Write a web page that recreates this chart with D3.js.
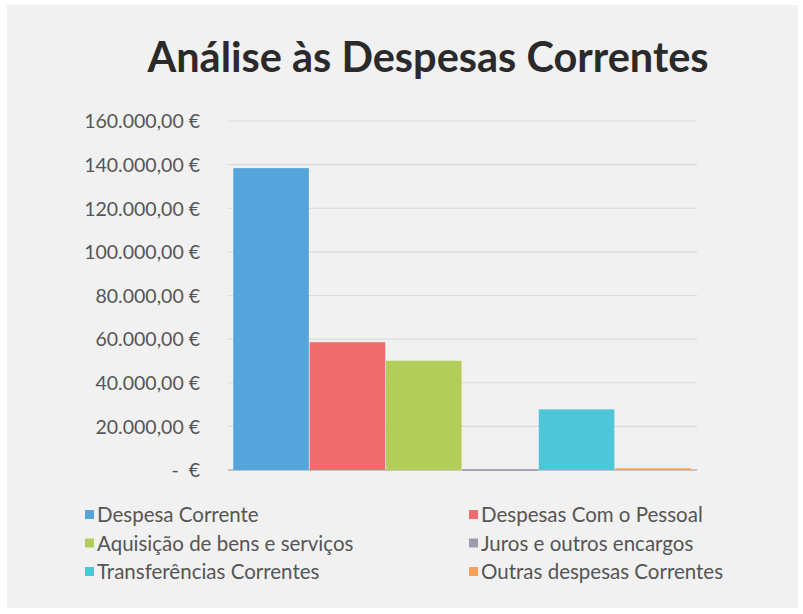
<!DOCTYPE html>
<html><head><meta charset="utf-8">
<script src="https://cdn.jsdelivr.net/npm/d3@7"></script>
<style>html,body{margin:0;padding:0;background:#fff;}svg{display:block;}</style>
</head><body>
<svg id="c" width="803" height="614"></svg>
<script>
const title = "Análise às Despesas Correntes";
const series = ["Despesa Corrente","Despesas Com o Pessoal","Aquisição de bens e serviços","Juros e outros encargos","Transferências Correntes","Outras despesas Correntes"];
const values = [138400, 58600, 50100, 300, 27800, 800];
const colors = ["#55a5dc","#ef6c6c","#b3cd5a","#9c9cac","#4ec6d8","#f4a25c"];
const yTicks = [0,20000,40000,60000,80000,100000,120000,140000,160000];
const tickLabels = ["-  €","20.000,00 €","40.000,00 €","60.000,00 €","80.000,00 €","100.000,00 €","120.000,00 €","140.000,00 €","160.000,00 €"];

const svg = d3.select("#c");
const font = "Lato, 'Open Sans', sans-serif";
svg.append("rect").attr("x",7).attr("y",5).attr("width",791).attr("height",603).attr("fill","#f1f1f1");

const m = {left:228, right:697, top:121, bottom:470};
const y = d3.scaleLinear().domain([0,160000]).range([m.bottom,m.top]);
const x = d3.scaleBand().domain(series).range([m.left+4.5,m.right-5.5]).padding(0.01);

// gridlines
svg.append("g").selectAll("line").data(yTicks).join("line")
  .attr("x1",m.left).attr("x2",m.right)
  .attr("y1",d=>y(d)).attr("y2",d=>y(d))
  .attr("stroke",d=>d===0?"#9a9a9a":"#dadada").attr("stroke-width",1.2);

// y axis labels
const yAxis = d3.axisLeft(y).tickValues(yTicks).tickSize(0).tickPadding(0)
  .tickFormat((d,i)=>tickLabels[i]);
const ga = svg.append("g").attr("transform","translate(200,0)").call(yAxis);
ga.select(".domain").remove();
ga.selectAll("text").attr("font-family",font).attr("font-size",19.5).attr("fill","#555")
  .attr("dy","0.35em").style("white-space","pre");

// bars
svg.append("g").selectAll("rect").data(values).join("rect")
  .attr("x",(d,i)=>x(series[i]))
  .attr("width",x.bandwidth())
  .attr("y",d=>y(d))
  .attr("height",d=>Math.max(1.5,m.bottom-y(d)))
  .attr("fill",(d,i)=>colors[i]);

// title
svg.append("text").attr("x",428).attr("y",72).attr("text-anchor","middle")
  .attr("font-family",font).attr("font-weight","bold").attr("font-size",41.5)
  .attr("fill","#2a2a2a").text(title);

// legend
const lg = svg.append("g");
series.forEach((s,i)=>{
  const col = i%2, row = Math.floor(i/2);
  const lx = col===0?85:469, ly = 515 + row*28.5;
  lg.append("rect").attr("x",lx).attr("y",ly-5).attr("width",9).attr("height",9).attr("fill",colors[i]);
  lg.append("text").attr("x",lx+12).attr("y",ly).attr("dy","0.35em")
    .attr("font-family",font).attr("font-size",20.5).attr("fill","#555").text(s);
});
</script>
</body></html>
